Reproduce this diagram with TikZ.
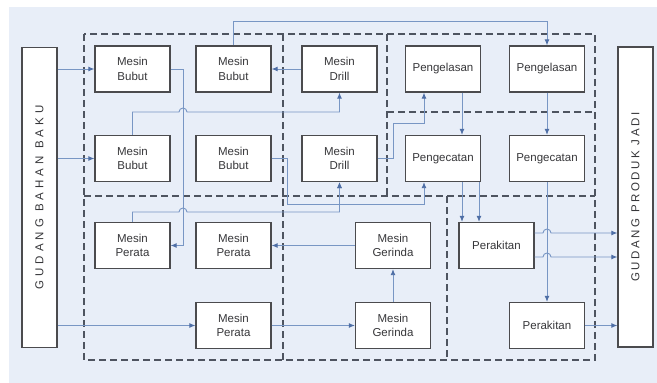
\documentclass[tikz,border=0pt]{standalone}
\usepackage{fontspec}
\setmainfont{Liberation Sans}
\usetikzlibrary{arrows.meta,calc}
\definecolor{bgblue}{RGB}{232,238,248}
\definecolor{boxgray}{RGB}{75,75,78}
\definecolor{zonegray}{RGB}{78,84,96}
\definecolor{flowblue}{RGB}{120,150,196}
\definecolor{arrowblue}{RGB}{78,110,165}
\definecolor{txtgray}{RGB}{55,55,58}
\begin{document}
\begin{tikzpicture}[x=1pt,y=-1pt,
  box/.style={draw=boxgray,line width=1.3pt,fill=white,minimum width=75pt,minimum height=46pt,inner sep=0pt,align=center,font=\fontsize{11.5}{14.5}\selectfont,text=txtgray},
  store/.style={draw=boxgray,line width=1.3pt,fill=white,minimum width=35pt,minimum height=300pt,inner sep=0pt},
  storetext/.style={rotate=90,text=txtgray,font=\fontsize{11.5}{14}\selectfont},
  zone/.style={draw=zonegray,line width=1.4pt,dash pattern=on 7pt off 4pt},
  link/.style={draw=flowblue,line width=0.9pt},
  flow/.style={link,-{Latex[length=6pt,width=5pt,color=arrowblue]}},
  hop/.style={}]
\useasboundingbox (0,0) rectangle (657,383);
\fill[white] (0,0) rectangle (657,383);
\fill[bgblue] (9,7) rectangle (657,383);

% zones
\draw[zone] (84,34) rectangle (595,360);
\draw[zone] (84,196) -- (595,196);
\draw[zone] (283,34) -- (283,360);
\draw[zone] (387,34) -- (387,196);
\draw[zone] (387,112) -- (595,112);
\draw[zone] (447,196) -- (447,360);

% stores
\node[store] (gbb) at (39.5,197.5) {};
\node[storetext] (gbbt) at (gbb) {\addfontfeature{LetterSpace=35}GUDANG BAHAN BAKU};
\node[store] (gpj) at (635.5,197) {};
\node[storetext] (gpjt) at (gpj) {\addfontfeature{LetterSpace=22}GUDANG PRODUK JADI};

% row 1
\node[box] (bb1) at (132.5,69) {Mesin\\Bubut};
\node[box] (bb2) at (233.5,69) {Mesin\\Bubut};
\node[box] (md1) at (339.5,69) {Mesin\\Drill};
\node[box] (pl1) at (443,69) {Pengelasan};
\node[box] (pl2) at (547,69) {Pengelasan};
% row 2
\node[box] (bb3) at (132.5,158.5) {Mesin\\Bubut};
\node[box] (bb4) at (233.5,158.5) {Mesin\\Bubut};
\node[box] (md2) at (339.5,158.5) {Mesin\\Drill};
\node[box] (pc1) at (443,158.5) {Pengecatan};
\node[box] (pc2) at (547,158.5) {Pengecatan};
% row 3
\node[box] (mp1) at (132.5,245.5) {Mesin\\Perata};
\node[box] (mp2) at (233.5,245.5) {Mesin\\Perata};
\node[box] (mg1) at (393,245.5) {Mesin\\Gerinda};
\node[box] (pk1) at (496.5,245.5) {Perakitan};
% row 4
\node[box] (mp3) at (233.5,325.5) {Mesin\\Perata};
\node[box] (mg2) at (393,325.5) {Mesin\\Gerinda};
\node[box] (pk2) at (547,325.5) {Perakitan};

% helper coordinates
\coordinate (gin1) at (gpj.west |- 0,233);
\coordinate (gin2) at (gpj.west |- 0,257);

% connectors from raw material store
\draw[flow] (bb1.west -| gbb.east) -- (bb1.west);
\draw[flow] (bb3.west -| gbb.east) -- (bb3.west);
\draw[flow] (mp3.west -| gbb.east) -- (mp3.west);

% bubut 1 -> perata 1
\draw[flow] (bb1.east) -- (183,69) |- (mp1.east);
% drill 1 -> bubut 2
\draw[flow] (md1.west) -- (bb2.east);
% bubut 2 -> pengelasan 2
\draw[flow] (bb2.north) -- ++(0,-24) -| (pl2.north);
% bubut 3 -> drill 1
\draw[flow] (bb3.north) |- (179,112) arc[start angle=180,end angle=0,radius=4pt] -| (md1.south);
% perata 1 -> drill 2
\draw[flow] (mp1.north) |- (179,212) arc[start angle=180,end angle=0,radius=4pt] -| (md2.south);
% bubut 4 -> drill 2 and pengecatan 1
\draw[flow] (bb4.east) -- ++(16,0) -- ++(0,45.5) -| (md2.south);
\draw[flow] (bb4.east) -- ++(16,0) -- ++(0,45.5) -| ([xshift=-19pt]pc1.south);
% drill 2 -> pengelasan 1
\draw[flow] (md2.east) -- ++(16,0) -- ++(0,-35.5) -| ([xshift=-19pt]pl1.south);
% pengelasan -> pengecatan
\draw[flow] ([xshift=19pt]pl1.south) -- ([xshift=19pt]pc1.north);
\draw[flow] (pl2.south) -- (pc2.north);
% pengecatan 1 -> perakitan 1
\draw[flow] ([xshift=19pt]pc1.south) -- ([xshift=19pt]pc1.south |- pk1.north);
\draw[flow] ([xshift=36pt]pc1.south) -- ([xshift=36pt]pc1.south |- pk1.north);
% pengecatan 2 -> perakitan 2
\draw[flow] (pc2.south) -- (pk2.north);
% perakitan 1 -> gudang produk jadi
\draw[flow] (pk1.east |- gin1) -- (543,233) arc[start angle=180,end angle=0,radius=4pt] -- (gin1);
\draw[flow] (pk1.east |- gin2) -- (543,257) arc[start angle=180,end angle=0,radius=4pt] -- (gin2);
% perakitan 2 -> gudang produk jadi
\draw[flow] (pk2.east) -- (pk2.east -| gpj.west);
% perata 3 -> gerinda 2 -> gerinda 1 -> perata 2
\draw[flow] (mp3.east) -- (mg2.west);
\draw[flow] (mg2.north) -- (mg1.south);
\draw[flow] (mg1.west) -- (mp2.east);
\end{tikzpicture}
\end{document}
